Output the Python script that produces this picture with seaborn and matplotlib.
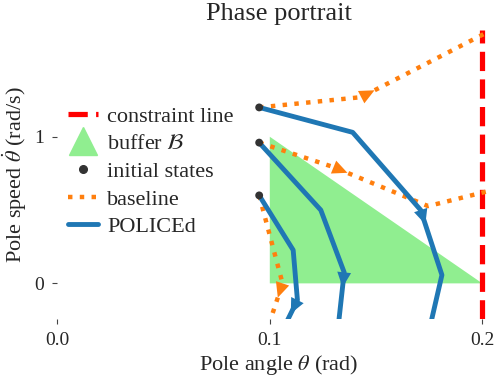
import matplotlib
matplotlib.use("Agg")
import matplotlib.pyplot as plt
import seaborn as sns
import numpy as np
from matplotlib.lines import Line2D

# initial states (pole angle, pole speed)
init_theta = [0.095, 0.095, 0.095]
init_omega = [1.20, 0.96, 0.60]

# POLICEd trajectories
policed_theta = [[0.095, 0.139, 0.171, 0.181, 0.175],
                 [0.095, 0.124, 0.135, 0.132],
                 [0.095, 0.111, 0.113, 0.106]]
policed_omega = [[1.20, 1.03, 0.50, 0.057, -0.32],
                 [0.96, 0.50, 0.075, -0.32],
                 [0.60, 0.227, -0.114, -0.32]]

# baseline trajectories
baseline_theta = [[0.095, 0.143, 0.2028],
                  [0.095, 0.130, 0.1745, 0.2045],
                  [0.095, 0.106, 0.0987]]
baseline_omega = [[1.20, 1.27, 1.716],
                  [0.96, 0.793, 0.527, 0.635],
                  [0.60, 0.0, -0.318]]

# buffer triangle and constraint
buffer_theta = [0.1, 0.2, 0.1]
buffer_omega = [0.0, 0.0, 1.0]
theta_max = 0.2

policed_arrow_idx = 2
baseline_arrow_idx = 1

blue = '#1f77b4'
orange = '#ff7f0e'

sns.set_style('ticks')
plt.rcParams['font.family'] = 'serif'
plt.rcParams['font.serif'] = ['Liberation Serif', 'DejaVu Serif']
plt.rcParams['mathtext.fontset'] = 'stix'

fig = plt.figure(figsize=(4.95, 3.88), dpi=100)
ax = fig.add_axes([57.3 / 495, (388 - 319) / 388, (501 - 57.3) / 495, (319 - 30) / 388])
ax.set_xlim(0, 0.2088)
ax.set_ylim(-0.243, 1.728)

ax.fill(buffer_theta, buffer_omega, color='lightgreen', lw=0, zorder=1)
ax.axvline(theta_max, color='red', ls='--', lw=3.75, zorder=2)

for th, om in zip(baseline_theta, baseline_omega):
    sns.lineplot(x=th, y=om, sort=False, estimator=None, color=orange,
                 ls=':', lw=3.2, ax=ax, zorder=3)
for th, om in zip(policed_theta, policed_omega):
    sns.lineplot(x=th, y=om, sort=False, estimator=None, color=blue,
                 lw=3.5, ax=ax, zorder=4)

sns.scatterplot(x=init_theta, y=init_omega, color='#333333', s=32,
                edgecolor='none', ax=ax, zorder=6)


def add_arrow(th, om, k, color):
    # small triangle starting at point k, pointing along the next segment
    p0 = ax.transData.transform((th[k], om[k]))
    p1 = ax.transData.transform((th[k + 1], om[k + 1]))
    d = (p1 - p0) / np.linalg.norm(p1 - p0)
    tip = ax.transData.inverted().transform(p0 + 15 * d)
    ax.annotate('', xy=tip, xytext=(th[k], om[k]),
                arrowprops=dict(arrowstyle='-|>,head_length=1.08,head_width=0.5',
                                color=color, lw=0, shrinkA=0, shrinkB=0,
                                mutation_scale=10), zorder=5)


for th, om in zip(baseline_theta, baseline_omega):
    add_arrow(th, om, baseline_arrow_idx, orange)
for th, om in zip(policed_theta, policed_omega):
    add_arrow(th, om, policed_arrow_idx, blue)

ax.set_xticks([0.0, 0.1, 0.2])
ax.set_xticklabels(['0.0', '0.1', '0.2'])
ax.set_yticks([0, 1])
ax.tick_params(length=3.5, width=0.8, color='#444444', labelsize=14, pad=6)
sns.despine(ax=ax, left=True, bottom=True)

ax.set_xlabel(r'Pole angle $\theta$ (rad)', fontsize=16, labelpad=3)
ax.set_ylabel(r'Pole speed $\dot{\theta}$ (rad/s)', fontsize=16, labelpad=4)
ax.set_title('Phase portrait', fontsize=19, pad=7)

handles = [
    Line2D([], [], color='red', ls='--', lw=3.75),
    Line2D([], [], color='lightgreen', marker='^', ls='none', markersize=20),
    Line2D([], [], color='#333333', marker='o', ls='none', markersize=5.5),
    Line2D([], [], color=orange, ls=':', lw=3.2),
    Line2D([], [], color=blue, lw=3.5),
]
labels = ['constraint line', r'buffer $\mathcal{B}$', 'initial states', 'baseline', 'POLICEd']
ax.legend(handles, labels, loc='center left', bbox_to_anchor=(-0.005, 0.51),
          frameon=False, fontsize=16, handlelength=1.35, handletextpad=0.4,
          labelspacing=0.32, borderaxespad=0.2)

fig.savefig('out.png', dpi=100)
